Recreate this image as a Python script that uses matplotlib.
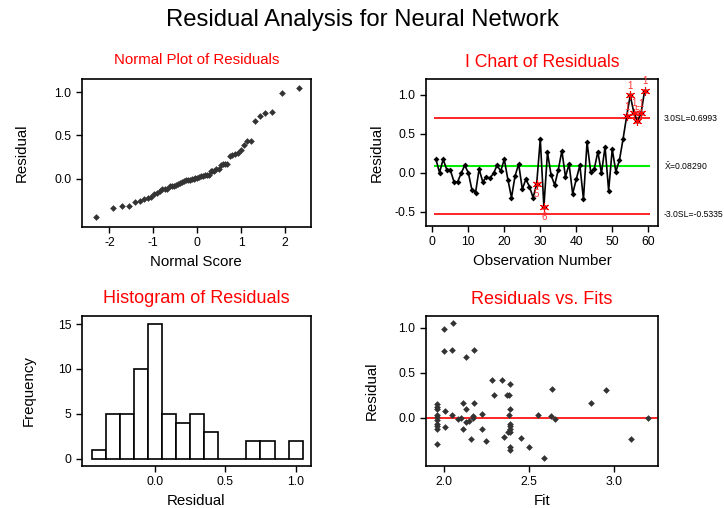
import matplotlib
matplotlib.use('Agg')
import matplotlib.pyplot as plt
import numpy as np
from statistics import NormalDist

plt.rcParams['font.family'] = ['Liberation Sans', 'DejaVu Sans']
plt.rcParams['mathtext.fontset'] = 'custom'
plt.rcParams['mathtext.rm'] = 'Liberation Sans'
plt.rcParams['axes.unicode_minus'] = False

# residuals by observation number
residuals = [0.17, 0.00, 0.17, 0.04, 0.035, -0.115, -0.12, -0.01, 0.094, 0.00,
             -0.22, -0.26, 0.045, -0.115, -0.06, -0.07, -0.01, 0.094, 0.02, 0.17,
             -0.09, -0.32, -0.04, 0.11, -0.21, -0.085, -0.18, -0.32, -0.145, 0.43,
             -0.44, 0.26, -0.03, -0.16, 0.035, 0.28, -0.055, 0.11, -0.27, -0.085,
             0.094, -0.34, 0.39, 0.013, 0.045, 0.27, -0.01, 0.33, -0.23, 0.30,
             0.013, 0.16, 0.43, 0.72, 0.99, 0.77, 0.66, 0.76, 1.05]

# control chart limits
center = 0.08290
ucl = 0.6993
lcl = -0.5335

# flagged points: observation -> test number
flags_below = {29: '5', 31: '6'}
flags_above = {54: '1', 55: '1', 56: '1', 57: '5', 58: '1', 59: '1'}

# residuals vs fits
fit_vals = [2.0, 2.057, 2.0, 2.051, 2.178, 2.129, 2.282, 2.341, 2.39, 2.298,
            2.37, 2.384, 2.64, 2.955, 2.869, 1.959, 1.959, 1.959, 2.008, 2.112,
            2.129, 2.178, 2.224, 2.051, 2.39, 2.384, 2.553, 2.63, 2.655, 3.202,
            1.959, 1.959, 1.959, 2.084, 2.1, 2.131, 2.151, 2.171, 2.171, 1.959,
            1.959, 2.008, 1.959, 2.112, 2.224, 2.39, 2.39, 2.39, 2.38, 2.39,
            2.357, 2.453, 2.161, 3.1, 2.247, 1.959, 2.39, 2.39, 2.504, 2.59]
fit_resid = [0.985, 1.05, 0.74, 0.756, 0.756, 0.674, 0.42, 0.42, 0.37, 0.255,
             0.255, 0.255, 0.32, 0.307, 0.16, 0.148, 0.122, 0.10, 0.078, 0.16,
             0.096, 0.16, 0.044, 0.03, 0.096, 0.026, 0.026, 0.015, -0.018, 0.0,
             0.03, 0.004, -0.026, -0.015, 0.0, -0.05, -0.037, 0.015, -0.007, -0.07,
             -0.093, -0.10, -0.13, -0.13, -0.13, -0.07, -0.093, -0.12, -0.16, -0.16,
             -0.21, -0.22, -0.24, -0.24, -0.26, -0.29, -0.32, -0.355, -0.32, -0.45]

bin_edges = np.arange(-0.45, 1.1, 0.1)

W, H = 724, 508
fig = plt.figure(figsize=(W / 100, H / 100), dpi=100)


def box(l, t, r, b):
    return [l / W, 1 - b / H, (r - l) / W, (b - t) / H]


def style(ax):
    for s in ax.spines.values():
        s.set_linewidth(1.2)
        s.set_color('black')
    ax.tick_params(direction='out', length=4, width=1, labelsize=8.8, colors='black')


pt_color = '#333333'
title_kw = dict(color='red')
lab_size = 10.8

# normal plot
ax1 = fig.add_axes(box(81.7, 79, 310.7, 226.7))
style(ax1)
n = len(residuals)
nd = NormalDist()
scores = [nd.inv_cdf((i + 1 - 0.375) / (n + 0.25)) for i in range(n)]
ax1.plot(scores, sorted(residuals), 'D', color=pt_color, markersize=3.4, markeredgewidth=0)
ax1.set_xlim(-2.63, 2.58)
ax1.set_ylim(-0.554, 1.15)
ax1.set_xticks([-2, -1, 0, 1, 2])
ax1.set_yticks([0, 0.5, 1.0])
ax1.set_yticklabels(['0.0', '0.5', '1.0'])
ax1.set_xlabel('Normal Score', fontsize=lab_size)
ax1.set_ylabel('Residual', fontsize=lab_size, labelpad=18)
ax1.set_title('Normal Plot of Residuals', fontsize=10.8, pad=11, **title_kw)

# I chart
ax2 = fig.add_axes(box(426, 79, 658.3, 225.7))
style(ax2)
obs = np.arange(1, n + 1)
ax2.hlines([ucl, lcl], 0.5, 60.5, color='red', linewidth=1.2)
ax2.hlines(center, 0.5, 60.5, color='#00ee00', linewidth=1.5)
ax2.plot(obs, residuals, '-D', color='black', markersize=3, linewidth=1.2, markeredgewidth=0)
flagged = sorted(list(flags_below) + list(flags_above))
ax2.plot(flagged, [residuals[i - 1] for i in flagged], linestyle='none',
         marker=(6, 2, 0), color='red', markersize=6.5, markeredgewidth=0.8)
for i, lab in flags_below.items():
    ax2.annotate(lab, (i, residuals[i - 1]), xytext=(0, -7), textcoords='offset points',
                 ha='center', va='center', color='#ff3333', fontsize=7)
for i, lab in flags_above.items():
    ax2.annotate(lab, (i, residuals[i - 1]), xytext=(0, 7), textcoords='offset points',
                 ha='center', va='center', color='#ff3333', fontsize=7)
ax2.set_xlim(-1.76, 62.8)
ax2.set_ylim(-0.68, 1.2)
ax2.set_xticks([0, 10, 20, 30, 40, 50, 60])
ax2.set_yticks([-0.5, 0, 0.5, 1.0])
ax2.set_yticklabels(['-0.5', '0.0', '0.5', '1.0'])
ax2.set_xlabel('Observation Number', fontsize=lab_size)
ax2.set_ylabel('Residual', fontsize=lab_size, labelpad=8)
ax2.set_title('I Chart of Residuals', fontsize=12.7, pad=9, **title_kw)
tr = ax2.get_yaxis_transform()
ax2.text(1.025, ucl, '3.0SL=0.6993', transform=tr, fontsize=6.2, va='center', ha='left', clip_on=False)
ax2.text(1.025, center, r'$\bar{\mathrm{X}}$=0.08290', transform=tr, fontsize=6.2, va='center', ha='left', clip_on=False)
ax2.text(1.025, lcl, '-3.0SL=-0.5335', transform=tr, fontsize=6.2, va='center', ha='left', clip_on=False)

# histogram
ax3 = fig.add_axes(box(81.7, 315.7, 310.7, 465.7))
style(ax3)
ax3.hist(residuals, bins=bin_edges, facecolor='white', edgecolor='black', linewidth=1.2)
ax3.set_xlim(-0.521, 1.107)
ax3.set_ylim(-0.78, 15.93)
ax3.set_xticks([0, 0.5, 1.0])
ax3.set_xticklabels(['0.0', '0.5', '1.0'])
ax3.set_yticks([0, 5, 10, 15])
ax3.set_xlabel('Residual', fontsize=lab_size)
ax3.set_ylabel('Frequency', fontsize=lab_size, labelpad=16)
ax3.set_title('Histogram of Residuals', fontsize=13, pad=9, **title_kw)

# residuals vs fits
ax4 = fig.add_axes(box(426, 316, 658.3, 465.7))
style(ax4)
ax4.axhline(0, color='red', linewidth=1.2)
ax4.plot(fit_vals, fit_resid, 'D', color=pt_color, markersize=3.4, markeredgewidth=0)
ax4.set_xlim(1.896, 3.263)
ax4.set_ylim(-0.533, 1.13)
ax4.set_xticks([2.0, 2.5, 3.0])
ax4.set_xticklabels(['2.0', '2.5', '3.0'])
ax4.set_yticks([0, 0.5, 1.0])
ax4.set_yticklabels(['0.0', '0.5', '1.0'])
ax4.set_xlabel('Fit', fontsize=lab_size)
ax4.set_ylabel('Residual', fontsize=lab_size, labelpad=14)
ax4.set_title('Residuals vs. Fits', fontsize=13, pad=9, **title_kw)

fig.text(0.5, 1 - 20 / H, 'Residual Analysis for Neural Network', ha='center', va='center', fontsize=17.2)

fig.savefig('out.png', dpi=100)
